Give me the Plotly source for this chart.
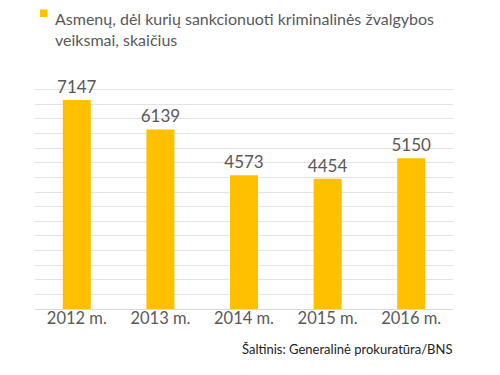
import plotly.graph_objects as go

categories = ["2012 m.", "2013 m.", "2014 m.", "2015 m.", "2016 m."]
values = [7147, 6139, 4573, 4454, 5150]
series_name = "Asmenų, dėl kurių sankcionuoti kriminalinės žvalgybos<br>veiksmai, skaičius"
source_text = "Šaltinis: Generalinė prokuratūra/BNS"

FONT = "Lato, 'Open Sans', sans-serif"
BAR_COLOR = "#FFC000"

# page has an 8px body margin; size/position the figure in page pixels
OFF = 8
W, H = 500 - OFF, 375 - OFF
L, R, T, B = 35 - OFF, 500 - 453, 75 - OFF, 375 - 301 - OFF

fig = go.Figure()
fig.add_trace(go.Bar(
    x=categories, y=values, name=series_name,
    marker=dict(color=BAR_COLOR, line=dict(width=0)),
    text=[str(v) for v in values], textposition="outside",
    textfont=dict(family=FONT, size=17, color="#595959"),
    constraintext="none", cliponaxis=False,
))

fig.update_layout(
    width=W, height=H,
    margin=dict(l=L, r=R, t=T, b=B, autoexpand=False),
    paper_bgcolor="white", plot_bgcolor="white",
    showlegend=False,
    bargap=0.665,
    xaxis=dict(showline=True, linecolor="#D9D9D9", linewidth=1,
               tickfont=dict(family=FONT, size=16.5, color="#595959"),
               ticks="", showgrid=False, ticklabelstandoff=-6),
    yaxis=dict(range=[0, 8000], dtick=500, showgrid=True,
               gridcolor="#E3E3E3", gridwidth=1, showticklabels=False,
               zeroline=False, ticks=""),
)

# helpers: page pixel -> paper coords
pw = W - L - R
ph = H - T - B
def px(x):
    return (x - OFF - L) / pw
def py(y):
    return (T + ph - (y - OFF)) / ph

fig.add_shape(type="rect", xref="paper", yref="paper",
              x0=px(40), x1=px(47.5), y0=py(17), y1=py(9.5),
              fillcolor=BAR_COLOR, line=dict(width=0))
fig.add_annotation(text=series_name, xref="paper", yref="paper",
                   x=px(54), y=py(8), xanchor="left", yanchor="top",
                   align="left", showarrow=False, borderpad=0,
                   font=dict(family=FONT, size=16, color="#595959"))
fig.add_annotation(text=source_text, xref="paper", yref="paper",
                   x=px(454), y=py(349), xanchor="right", yanchor="middle",
                   showarrow=False,
                   font=dict(family=FONT, size=13, color="#222222"))

fig.write_html("out.html")
